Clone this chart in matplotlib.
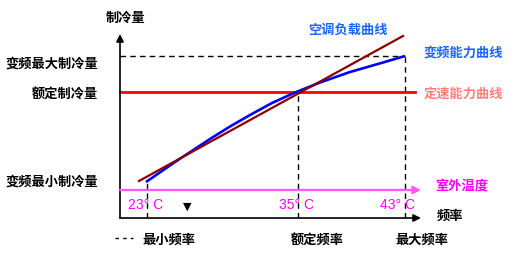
import matplotlib
matplotlib.use("Agg")
import matplotlib.pyplot as plt

plt.rcParams['font.family'] = ['Noto Sans CJK SC', 'DejaVu Sans']

# ---- data (schematic units) ----
freq_labels = ['最小频率', '额定频率', '最大频率']
freq_min, freq_rated, freq_max = 27, 178, 285
cap_min, cap_rated, cap_max = 36, 126, 162
outdoor_level = 28
temp_labels = ['23° C', '35° C', '43° C']
temp_x = [8, 159, 260]

# variable-speed capacity curve
vs_x = [26, 55, 90, 110, 130, 152, 175, 200, 230, 263, 285]
vs_y = [36, 56, 79, 91.5, 103, 115, 125.5, 135.5, 146, 155.5, 162]
# load line
load_x = [19, 283]
load_y = [37, 182]
# fixed-speed capacity
fixed_x = [0, 295]
fixed_y = [cap_rated, cap_rated]

cap_labels = ['变频最大制冷量', '额定制冷量', '变频最小制冷量']
cap_label_y = [154, 124, 36]

fig = plt.figure(figsize=(5.31, 2.57), dpi=100)
ax = fig.add_axes([0, 0, 1, 1])
ax.set_xlim(-120, 411)
ax.set_ylim(-39, 218)
ax.axis('off')

bold = dict(fontsize=9.5, fontweight='bold')

# axes with arrows
ax.annotate('', xy=(0, 184), xytext=(0, 0),
            arrowprops=dict(arrowstyle='-|>', mutation_scale=11, lw=1.2, color='black',
                            shrinkA=0, shrinkB=0))
ax.annotate('', xy=(301, 0), xytext=(0, 0),
            arrowprops=dict(arrowstyle='-|>', mutation_scale=11, lw=1.2, color='black',
                            shrinkA=0, shrinkB=0))
# outdoor temperature line
ax.annotate('', xy=(301, outdoor_level), xytext=(0, outdoor_level),
            arrowprops=dict(arrowstyle='-|>', mutation_scale=11, lw=1.6, color='#ff55ff',
                            shrinkA=0, shrinkB=0))

# dashed guides
ax.plot([0, freq_max], [cap_max, cap_max], ls=(0, (4, 3)), color='black', lw=1)
ax.plot([freq_max, freq_max], [0, cap_max], ls=(0, (4, 3)), color='black', lw=1)
ax.plot([freq_min, freq_min], [0, cap_min], ls=(0, (4, 3)), color='black', lw=1)
ax.plot([freq_rated, freq_rated], [0, cap_rated], ls=(0, (4, 3)), color='black', lw=1)

# curves
ax.plot(fixed_x, fixed_y, color='#ff0000', lw=2)
ax.plot(vs_x, vs_y, color='#0000ff', lw=1.9, solid_capstyle='butt', solid_joinstyle='round')
ax.plot(load_x, load_y, color='#8b0000', lw=1.6)

# texts
ax.text(6, 200, '制冷量', ha='center', va='center', **bold)
for lab, y in zip(cap_labels, cap_label_y):
    ax.text(-22, y, lab, ha='right', va='center', **bold)
ax.text(228, 188, '空调负载曲线', ha='center', va='center', color='#1a66ff', **bold)
ax.text(304, 165, '变频能力曲线', ha='left', va='center', color='#1a66ff', **bold)
ax.text(304, 124, '定速能力曲线', ha='left', va='center', color='#ff7f7f', **bold)
ax.text(315, 32, '室外温度', ha='left', va='center', color='#ff00ff', **bold)
for lab, x in zip(temp_labels, temp_x):
    ax.text(x, 13, lab, ha='left', va='center', color='#ff00ff', fontsize=10,
            family=['Liberation Sans', 'DejaVu Sans'])
ax.text(67, 11, '▼', ha='center', va='center', fontsize=8, color='black',
        family=['DejaVu Sans'])
ax.text(330, 2, '频率', ha='center', va='center', **bold)

# legend-like bottom labels
ax.plot([-5, 13], [-20, -20], ls=(0, (2.5, 3)), color='black', lw=1)
for lab, x in zip(freq_labels, [49, 197, 302]):
    ax.text(x, -22, lab, ha='center', va='center', **bold)

fig.savefig('out.png', dpi=100)
